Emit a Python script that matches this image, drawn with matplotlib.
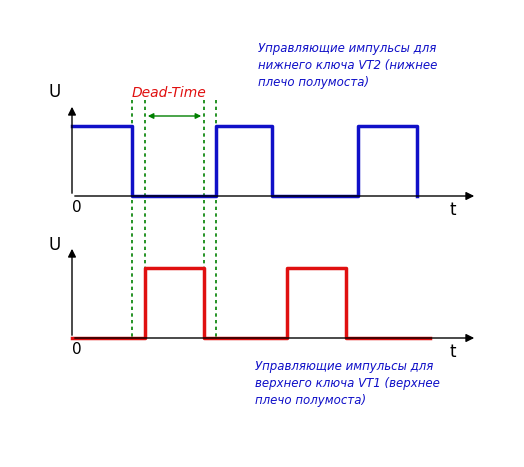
import matplotlib
matplotlib.use("Agg")
import matplotlib.pyplot as plt
import numpy as np

# time edges (arbitrary units)
blue_t = [0, 60, 60, 144, 144, 200, 200, 286, 286, 345, 345]
blue_v = [1, 1, 0, 0, 1, 1, 0, 0, 1, 1, 0]
red_t = [0, 73, 73, 132, 132, 215, 215, 274, 274, 358]
red_v = [0, 0, 1, 1, 0, 0, 1, 1, 0, 0]
dead_lines = [60, 73, 132, 144]

fig = plt.figure(figsize=(5.24, 4.67), dpi=100)
ax = fig.add_axes([0, 0, 1, 1])
ax.set_xlim(-72, 452)
ax.set_ylim(467, 0)
ax.axis('off')

base1, base2, amp = 196, 338, 70
def ypx(base, v): return [base - amp * x for x in v]

ax.plot(blue_t, [y - 1.5 * (1 - v) * 0 for y, v in zip(ypx(base1, blue_v), blue_v)], color='#1010c8', lw=2.5, zorder=3)
ax.plot(red_t, ypx(base2, red_v), color='#e01010', lw=2.5, zorder=3)

for b in (base1, base2):
    ax.annotate('', xy=(405, b), xytext=(0, b), arrowprops=dict(arrowstyle='-|>', color='black', lw=1, mutation_scale=12))
    ax.annotate('', xy=(0, b - 92), xytext=(0, b), arrowprops=dict(arrowstyle='-|>', color='black', lw=1, mutation_scale=12))

for x in dead_lines:
    ax.plot([x, x], [100, base2], color='#008000', ls=(0, (2, 2)), lw=1.2, zorder=2)
ax.annotate('', xy=(73, 116), xytext=(132, 116), arrowprops=dict(arrowstyle='<|-|>', color='#008000', lw=1, mutation_scale=8))
ax.text(97, 93, 'Dead-Time', color='#e01010', fontstyle='italic', fontsize=10, ha='center', va='center')

for b, uy in ((base1, 92), (base2, 245)):
    ax.text(-17, uy, 'U', fontsize=12, ha='center', va='center')
    ax.text(5, b + 12, '0', fontsize=11, ha='center', va='center')
    ax.text(381, b + 14, 't', fontsize=12, ha='center', va='center')

ax.text(186, 42, 'Управляющие импульсы для\nнижнего ключа VT2 (нижнее\nплечо полумоста)', color='#1010c8',
        fontstyle='italic', fontsize=8.5, va='top', linespacing=1.4)
ax.text(183, 360, 'Управляющие импульсы для\nверхнего ключа VT1 (верхнее\nплечо полумоста)', color='#1010c8',
        fontstyle='italic', fontsize=8.5, va='top', linespacing=1.4)

fig.savefig('out.png', dpi=100)
